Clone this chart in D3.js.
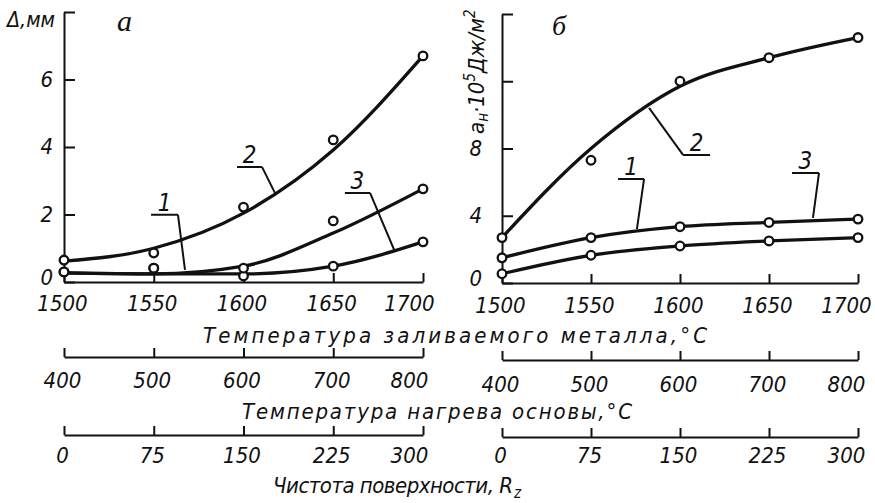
<!DOCTYPE html>
<html><head><meta charset="utf-8">
<script src="https://cdn.jsdelivr.net/npm/d3@7"></script>
<style>
html,body{margin:0;padding:0;background:#fff;}
svg{display:block;}
text{font-family:"Liberation Sans Narrow","DejaVu Sans Condensed","DejaVu Sans",sans-serif;font-style:italic;fill:#111;}
.serif{font-family:"Liberation Serif","DejaVu Serif",serif;}
</style></head><body>
<svg id="chart" width="875" height="503"></svg>
<script>
// ---- data ----
const temps = [1500, 1550, 1600, 1650, 1700];          // pouring metal temperature, °C
const heatTicks = [400, 500, 600, 700, 800];           // base heating temperature, °C
const roughTicks = [0, 75, 150, 225, 300];             // surface roughness Rz

// panel a: Δ, mm  (fitted curves and measured points)
const aFit1 = [0.27, 0.24, 0.24, 0.47, 1.19];
const aFit2 = [0.62, 1.0, 2.04, 3.91, 6.70];
const aFit3 = [0.27, 0.24, 0.47, 1.45, 2.76];
const aPts1 = [0.30, 0.41, 0.18, 0.47, 1.19];
const aPts2 = [0.65, 0.86, 2.22, 4.21, 6.70];
const aPts3 = [0.30, 0.41, 0.41, 1.81, 2.76];

// panel б: aн·10^5 Дж/м²
const bFit2 = [2.7, 8.0, 11.7, 13.4, 14.6];
const bPts2 = [2.7, 7.3, 12.0, 13.4, 14.6];
const bMid = [1.5, 2.7, 3.35, 3.6, 3.8];
const bLow = [0.55, 1.65, 2.2, 2.5, 2.7];

const aYTicks = [0, 2, 4, 6, 8];
const aYLabels = ["0", "2", "4", "6", ""];
const bYTicks = [0, 4, 8, 12, 16];
const bYLabels = ["0", "4", "8", "", ""];

// leader annotations (data units): label, underline x0..x1 at uy, leader end (ex,ey)
const aNotes = [
  {label: "2", ux0: 1596.4, ux1: 1610.3, uy: 3.41, ex: 1617.5, ey: 2.64},
  {label: "1", ux0: 1548.5, ux1: 1563.5, uy: 1.99, ex: 1567.4, ey: 0.36},
  {label: "3", ux0: 1656.5, ux1: 1670.5, uy: 2.64, ex: 1684.4, ey: 0.89}
];
const bNotes = [
  {label: "2", ux0: 1601.7, ux1: 1616.9, uy: 7.62, ex: 1582.6, ey: 10.42},
  {label: "1", ux0: 1565.2, ux1: 1579.8, uy: 6.19, ex: 1575.8, ey: 3.21},
  {label: "3", ux0: 1662.9, ux1: 1678.1, uy: 6.55, ex: 1674.7, ey: 3.87}
];

// ---- drawing ----
const svg = d3.select("#chart");
const INK = "#111";

function panel(cfg) {
  const x = d3.scaleLinear().domain([1500, 1700]).range(cfg.xRange);
  const y = d3.scaleLinear().domain(cfg.yDomain).range(cfg.yRange);
  const xHeat = d3.scaleLinear().domain([400, 800]).range(cfg.xRange);
  const xRough = d3.scaleLinear().domain([0, 300]).range(cfg.xRange);

  function bottomAxis(scale, ticks, yPos, off) {
    const g = svg.append("g").attr("transform", `translate(0,${yPos})`)
      .call(d3.axisBottom(scale).tickValues(ticks).tickSizeInner(-9).tickSizeOuter(0).tickFormat(d3.format("d")));
    g.attr("font-family", null).attr("font-size", null);
    g.selectAll("path,line").attr("stroke", INK).attr("stroke-width", 2);
    g.selectAll("text").attr("y", off).attr("dy", 0)
      .attr("dx", (d, i) => i === ticks.length - 1 ? cfg.lastDx : -2)
      .style("font-size", "22px").attr("fill", INK);
    return g;
  }
  bottomAxis(x, temps, cfg.axY[0], cfg.off[0]);
  bottomAxis(xHeat, heatTicks, cfg.axY[1], cfg.off[1]);
  bottomAxis(xRough, roughTicks, cfg.axY[2], cfg.off[2]);

  const gy = svg.append("g").attr("transform", `translate(${cfg.xRange[0]},0)`)
    .call(d3.axisLeft(y).tickValues(cfg.yTicks).tickSizeInner(-11).tickSizeOuter(0)
      .tickPadding(cfg.yPad).tickFormat((d, i) => cfg.yLabels[i]));
  gy.attr("font-family", null).attr("font-size", null);
  gy.selectAll("path,line").attr("stroke", INK).attr("stroke-width", 2);
  gy.selectAll("text").attr("dy", d => d === 0 ? "0.12em" : "0.3em").style("font-size", "22px").attr("fill", INK);

  const line = d3.line().x((d, i) => x(temps[i])).y(d => y(d)).curve(d3.curveMonotoneX);
  cfg.fits.forEach(f => {
    svg.append("path").datum(f).attr("d", line).attr("fill", "none")
      .attr("stroke", INK).attr("stroke-width", 3.3).attr("stroke-linecap", "round");
  });

  // leader annotations
  cfg.notes.forEach(n => {
    const mid = (n.ux0 + n.ux1) / 2;
    const sx = n.ex < mid ? n.ux0 : n.ux1;
    svg.append("path")
      .attr("d", `M${x(n.ux0)},${y(n.uy)}H${x(n.ux1)}M${x(sx)},${y(n.uy)}L${x(n.ex)},${y(n.ey)}`)
      .attr("fill", "none").attr("stroke", INK).attr("stroke-width", 2);
    svg.append("text").attr("x", x(mid)).attr("y", y(n.uy) - 4)
      .attr("text-anchor", "middle").style("font-size", "24px").text(n.label);
  });

  cfg.pts.forEach(p => {
    svg.append("g").selectAll("circle").data(p).join("circle")
      .attr("cx", (d, i) => x(temps[i])).attr("cy", d => y(d)).attr("r", 4.3)
      .attr("fill", "#fff").attr("stroke", INK).attr("stroke-width", 2.3);
  });
}

panel({
  xRange: [64, 423], yDomain: [0, 8], yRange: [282, 12],
  axY: [282, 357, 435], off: [29, 31, 28], lastDx: -14,
  yTicks: aYTicks, yLabels: aYLabels, yPad: 11,
  fits: [aFit1, aFit2, aFit3], pts: [aPts1, aPts2, aPts3], notes: aNotes
});
panel({
  xRange: [502, 858], yDomain: [0, 16], yRange: [283, 14],
  axY: [283, 360, 437], off: [30, 32, 26], lastDx: -12,
  yTicks: bYTicks, yLabels: bYLabels, yPad: 20,
  fits: [bFit2, bMid, bLow], pts: [bPts2, bMid, bLow], notes: bNotes
});

// axis titles
svg.append("text").attr("x", 203).attr("y", 343).attr("textLength", 504).attr("lengthAdjust", "spacing")
  .style("font-size", "22px").text("Температура заливаемого металла,°С");
svg.append("text").attr("x", 242).attr("y", 419).attr("textLength", 390).attr("lengthAdjust", "spacing")
  .style("font-size", "22px").text("Температура нагрева основы,°С");
svg.append("text").attr("x", 273).attr("y", 493).attr("textLength", 240).attr("lengthAdjust", "spacing")
  .style("font-size", "22px").text("Чистота поверхности, R");
svg.append("text").attr("x", 514).attr("y", 498).style("font-size", "15px").text("z");

svg.append("text").attr("x", 7).attr("y", 27).attr("textLength", 48).attr("lengthAdjust", "spacingAndGlyphs")
  .style("font-size", "21px").text("Δ,мм");
svg.append("text").attr("class", "serif").attr("x", 117).attr("y", 31).style("font-size", "30px").text("а");
svg.append("text").attr("class", "serif").attr("x", 552).attr("y", 35).style("font-size", "28px").text("б");

const yt = svg.append("text").attr("transform", "translate(484,134) rotate(-90)").style("font-size", "22px");
yt.append("tspan").text("a");
yt.append("tspan").attr("dy", 4).style("font-size", "15px").text("н");
yt.append("tspan").attr("dy", -4).text("·10");
yt.append("tspan").attr("dy", -9).style("font-size", "15px").text("5");
yt.append("tspan").attr("dy", 9).text("Дж/м");
yt.append("tspan").attr("dy", -9).style("font-size", "15px").text("2");
</script>
</body></html>
